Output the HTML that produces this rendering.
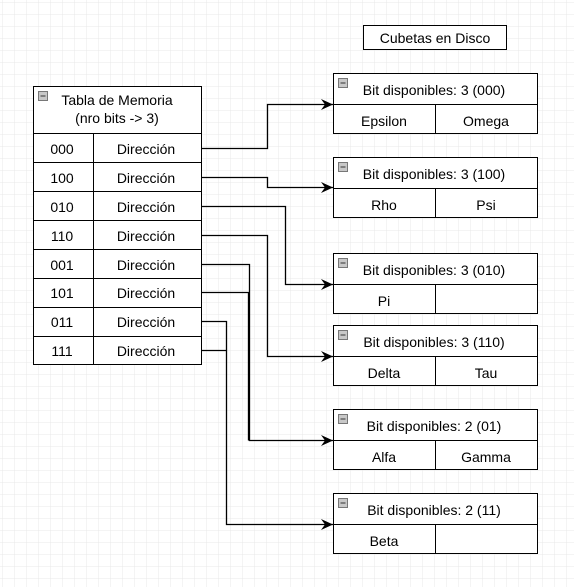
<!DOCTYPE html>
<html><head><style>
html,body{margin:0;padding:0;background:#fff;}
svg{display:block;font-family:"Liberation Sans",Arial,sans-serif;}
</style></head><body>
<svg width="574" height="587" xmlns="http://www.w3.org/2000/svg">
<defs>
<pattern id="g" width="12" height="12" patternUnits="userSpaceOnUse" x="2" y="2">
<path d="M12 0H0V12" fill="none" stroke="#e8e8e8" stroke-width="1"/>
</pattern>
<marker id="a" markerWidth="14" markerHeight="14" refX="12" refY="7" orient="auto" markerUnits="userSpaceOnUse">
<path d="M0,1.5 L12,7 L0,12.5 L4,7 Z" fill="#000"/>
</marker>
<g id="mi"><rect x="0" y="0" width="9" height="9" fill="#c8c8c8" stroke="#777" stroke-width="1"/><line x1="2" y1="4.5" x2="7" y2="4.5" stroke="#333"/></g>
</defs>
<rect width="574" height="587" fill="url(#g)"/>

<rect x="363.5" y="25.5" width="143" height="24" fill="#fff" stroke="#000"/>
<text x="435" y="43" font-size="14" text-anchor="middle">Cubetas en Disco</text>

<g stroke="#000" fill="#fff">
<rect x="33.5" y="86.5" width="168" height="278"/>
<line x1="33" y1="133.5" x2="201" y2="133.5"/>
<line x1="33" y1="162.5" x2="201" y2="162.5"/>
<line x1="33" y1="191.5" x2="201" y2="191.5"/>
<line x1="33" y1="220.5" x2="201" y2="220.5"/>
<line x1="33" y1="249.5" x2="201" y2="249.5"/>
<line x1="33" y1="278.5" x2="201" y2="278.5"/>
<line x1="33" y1="307.5" x2="201" y2="307.5"/>
<line x1="33" y1="336.5" x2="201" y2="336.5"/>
<line x1="93.5" y1="133" x2="93.5" y2="364"/>
</g>
<use href="#mi" x="38.5" y="91.5"/>
<g font-size="14" text-anchor="middle">
<text x="117" y="105">Tabla de Memoria</text>
<text x="117" y="123">(nro bits -&gt; 3)</text>
<text x="62" y="154">000</text><text x="146" y="154">Dirección</text>
<text x="62" y="183">100</text><text x="146" y="183">Dirección</text>
<text x="62" y="212">010</text><text x="146" y="212">Dirección</text>
<text x="62" y="241">110</text><text x="146" y="241">Dirección</text>
<text x="62" y="270">001</text><text x="146" y="270">Dirección</text>
<text x="62" y="298">101</text><text x="146" y="298">Dirección</text>
<text x="62" y="327">011</text><text x="146" y="327">Dirección</text>
<text x="62" y="356">111</text><text x="146" y="356">Dirección</text>
</g>

<g id="b1">
<rect x="333.5" y="73.5" width="204" height="60" fill="#fff" stroke="#000"/>
<line x1="333" y1="104.5" x2="537" y2="104.5" stroke="#000"/>
<line x1="435.5" y1="104" x2="435.5" y2="133" stroke="#000"/>
</g>
<use href="#b1" y="84"/>
<use href="#b1" y="180"/>
<use href="#b1" y="252"/>
<use href="#b1" y="336"/>
<use href="#b1" y="420"/>
<use href="#mi" x="338.5" y="78.5"/>
<use href="#mi" x="338.5" y="162.5"/>
<use href="#mi" x="338.5" y="258.5"/>
<use href="#mi" x="338.5" y="330.5"/>
<use href="#mi" x="338.5" y="414.5"/>
<use href="#mi" x="338.5" y="498.5"/>
<g font-size="14" text-anchor="middle">
<text x="434" y="95">Bit disponibles: 3 (000)</text>
<text x="384" y="126">Epsilon</text><text x="486" y="126">Omega</text>
<text x="434" y="179">Bit disponibles: 3 (100)</text>
<text x="384" y="210">Rho</text><text x="486" y="210">Psi</text>
<text x="434" y="275">Bit disponibles: 3 (010)</text>
<text x="384" y="306">Pi</text>
<text x="434" y="347">Bit disponibles: 3 (110)</text>
<text x="384" y="378">Delta</text><text x="486" y="378">Tau</text>
<text x="434" y="431">Bit disponibles: 2 (01)</text>
<text x="384" y="462">Alfa</text><text x="486" y="462">Gamma</text>
<text x="434" y="515">Bit disponibles: 2 (11)</text>
<text x="384" y="546">Beta</text>
</g>

<g fill="none" stroke="#000" stroke-width="1.3">
<path d="M201,148.5H267.5V104.5H333" marker-end="url(#a)"/>
<path d="M201,177.5H267.5V187.5H333" marker-end="url(#a)"/>
<path d="M201,206.5H285.5V284.5H333" marker-end="url(#a)"/>
<path d="M201,235.5H267.5V356.5H333" marker-end="url(#a)"/>
<path d="M201,264.5H249.5V440.5H333" marker-end="url(#a)"/>
<path d="M201,292.5H248.5V440.5"/>
<path d="M201,321.5H226.5V524.5H333" marker-end="url(#a)"/>
<path d="M201,350.5H226.5"/>
</g>
</svg>
</body></html>
